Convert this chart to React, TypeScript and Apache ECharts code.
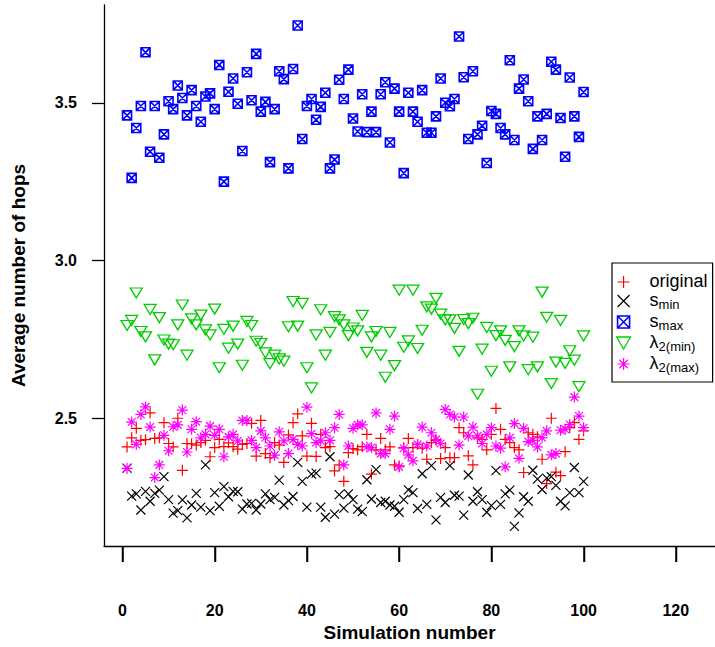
import React, { useEffect, useRef } from "react";
import * as echarts from "echarts";

const simNumbers = [
  1, 2, 3, 4, 5, 6, 7, 8, 9, 10, 11, 12, 13, 14, 15, 16, 17, 18, 19, 20,
  21, 22, 23, 24, 25, 26, 27, 28, 29, 30, 31, 32, 33, 34, 35, 36, 37, 38, 39, 40,
  41, 42, 43, 44, 45, 46, 47, 48, 49, 50, 51, 52, 53, 54, 55, 56, 57, 58, 59, 60,
  61, 62, 63, 64, 65, 66, 67, 68, 69, 70, 71, 72, 73, 74, 75, 76, 77, 78, 79, 80,
  81, 82, 83, 84, 85, 86, 87, 88, 89, 90, 91, 92, 93, 94, 95, 96, 97, 98, 99, 100,
];

const original = [
  2.409, 2.438, 2.468, 2.43, 2.432, 2.517, 2.436, 2.438, 2.486, 2.42,
  2.409, 2.5, 2.335, 2.42, 2.419, 2.415, 2.423, 2.43, 2.378, 2.407,
  2.433, 2.41, 2.422, 2.41, 2.402, 2.417, 2.42, 2.484, 2.38, 2.493,
  2.388, 2.375, 2.423, 2.415, 2.36, 2.447, 2.486, 2.514, 2.444, 2.38,
  2.484, 2.379, 2.449, 2.407, 2.41, 2.333, 2.352, 2.3, 2.391, 2.404,
  2.4, 2.41, 2.449, 2.323, 2.4, 2.436, 2.4, 2.409, 2.352, 2.349,
  2.407, 2.436, 2.407, 2.417, 2.405, 2.37, 2.423, 2.43, 2.372, 2.407,
  2.375, 2.375, 2.47, 2.454, 2.381, 2.352, 2.438, 2.433, 2.4, 2.449,
  2.531, 2.465, 2.433, 2.423, 2.407, 2.4, 2.328, 2.454, 2.449, 2.441,
  2.37, 2.293, 2.5, 2.329, 2.318, 2.394, 2.47, 2.486, 2.433, 2.46,
];

const sMin = [
  2.342, 2.253, 2.26, 2.209, 2.268, 2.237, 2.262, 2.272, 2.315, 2.242,
  2.199, 2.207, 2.241, 2.184, 2.225, 2.262, 2.218, 2.352, 2.207, 2.264,
  2.221, 2.283, 2.251, 2.268, 2.267, 2.212, 2.228, 2.23, 2.209, 2.228,
  2.26, 2.242, 2.249, 2.304, 2.225, 2.239, 2.252, 2.36, 2.3, 2.218,
  2.323, 2.326, 2.218, 2.186, 2.378, 2.196, 2.258, 2.215, 2.26, 2.242,
  2.212, 2.204, 2.305, 2.244, 2.337, 2.233, 2.237, 2.225, 2.221, 2.202,
  2.242, 2.273, 2.264, 2.214, 2.324, 2.227, 2.35, 2.178, 2.249, 2.233,
  2.35, 2.256, 2.253, 2.193, 2.32, 2.237, 2.267, 2.242, 2.202, 2.223,
  2.334, 2.227, 2.26, 2.272, 2.157, 2.2, 2.251, 2.237, 2.335, 2.307,
  2.274, 2.31, 2.315, 2.287, 2.237, 2.222, 2.264, 2.344, 2.264, 2.3,
];

const sMax = [
  3.46, 3.262, 3.42, 3.49, 3.66, 3.345, 3.49, 3.326, 3.4, 3.505,
  3.48, 3.555, 3.515, 3.46, 3.54, 3.49, 3.44, 3.52, 3.53, 3.48,
  3.62, 3.25, 3.535, 3.577, 3.497, 3.347, 3.597, 3.508, 3.655, 3.472,
  3.503, 3.312, 3.48, 3.6, 3.575, 3.292, 3.607, 3.745, 3.385, 3.49,
  3.512, 3.446, 3.487, 3.532, 3.292, 3.32, 3.573, 3.512, 3.605, 3.45,
  3.409, 3.527, 3.407, 3.472, 3.407, 3.527, 3.565, 3.374, 3.545, 3.472,
  3.277, 3.532, 3.472, 3.44, 3.54, 3.405, 3.405, 3.457, 3.577, 3.5,
  3.489, 3.512, 3.71, 3.581, 3.385, 3.6, 3.4, 3.427, 3.309, 3.474,
  3.465, 3.42, 3.4, 3.635, 3.382, 3.545, 3.574, 3.505, 3.354, 3.457,
  3.382, 3.465, 3.63, 3.605, 3.452, 3.329, 3.58, 3.457, 3.392, 3.534,
];

const lambda2Min = [
  2.794, 2.81, 2.897, 2.775, 2.758, 2.845, 2.685, 2.819, 2.748, 2.735,
  2.733, 2.796, 2.859, 2.7, 2.815, 2.796, 2.827, 2.78, 2.764, 2.846,
  2.66, 2.782, 2.722, 2.792, 2.735, 2.668, 2.807, 2.794, 2.744, 2.737,
  2.707, 2.673, 2.7, 2.688, 2.681, 2.79, 2.87, 2.792, 2.864, 2.66,
  2.596, 2.764, 2.844, 2.7, 2.772, 2.822, 2.812, 2.796, 2.762, 2.786,
  2.777, 2.826, 2.709, 2.758, 2.775, 2.7, 2.63, 2.772, 2.667, 2.906,
  2.725, 2.745, 2.906, 2.721, 2.779, 2.853, 2.846, 2.88, 2.83, 2.812,
  2.812, 2.785, 2.712, 2.813, 2.8, 2.817, 2.576, 2.719, 2.788, 2.649,
  2.762, 2.777, 2.747, 2.663, 2.727, 2.777, 2.761, 2.654, 2.757, 2.663,
  2.9, 2.82, 2.61, 2.678, 2.81, 2.674, 2.714, 2.684, 2.6, 2.761,
];

const lambda2Max = [
  2.341, 2.488, 2.417, 2.512, 2.536, 2.472, 2.312, 2.352, 2.446, 2.397,
  2.473, 2.479, 2.526, 2.393, 2.465, 2.489, 2.438, 2.449, 2.475, 2.446,
  2.465, 2.378, 2.441, 2.449, 2.428, 2.493, 2.493, 2.43, 2.407, 2.46,
  2.438, 2.412, 2.383, 2.457, 2.428, 2.388, 2.433, 2.417, 2.412, 2.535,
  2.451, 2.423, 2.428, 2.454, 2.43, 2.47, 2.512, 2.352, 2.412, 2.468,
  2.479, 2.479, 2.409, 2.407, 2.517, 2.388, 2.388, 2.465, 2.507, 2.346,
  2.405, 2.384, 2.365, 2.417, 2.472, 2.412, 2.454, 2.433, 2.42, 2.528,
  2.512, 2.504, 2.415, 2.504, 2.444, 2.472, 2.444, 2.42, 2.449, 2.47,
  2.412, 2.405, 2.346, 2.438, 2.483, 2.373, 2.468, 2.426, 2.43, 2.409,
  2.438, 2.46, 2.384, 2.388, 2.462, 2.465, 2.48, 2.567, 2.507, 2.47,
];

const xTicks = [0, 20, 40, 60, 80, 100, 120];
const yTicks = [2.5, 3.0, 3.5];

const seriesNames = ["original", "smin", "smax", "l2min", "l2max"];
const legendLabels: Record<string, string> = {
  original: "{m|original}",
  smin: "{m|s}{s|min}",
  smax: "{m|s}{s|max}",
  l2min: "{m|\u03bb}{s|2(min)}",
  l2max: "{m|\u03bb}{s|2(max)}",
};

const PLUS = "path://M5,0L5,10M0,5L10,5";
const CROSS = "path://M0,0L10,10M10,0L0,10";
const BOXX = "path://M0,0L10,0L10,10L0,10ZM0,0L10,10M10,0L0,10";
const TRI = "path://M0,0L10,0L5,8.66Z";
const STAR = "path://M5,0L5,10M0,5L10,5M1.46,1.46L8.54,8.54M8.54,1.46L1.46,8.54";

const FONT = "'Liberation Sans', Arial, sans-serif";
const X_MIN = -4;
const X_MAX = 128.5;
const Y_MIN = 2.095;
const Y_MAX = 3.81;

export default function App() {
  const ref = useRef<HTMLDivElement>(null);

  useEffect(() => {
    if (!ref.current) return;
    const chart = echarts.init(ref.current, undefined, { renderer: "svg" });

    const pair = (vals: number[]) => vals.map((v, i) => [simNumbers[i], v]);

    const mk = (name: string, vals: number[], symbol: string, size: any, color: string, bw: number) => ({
      name,
      type: "scatter",
      data: pair(vals),
      symbol,
      symbolSize: size,
      silent: true,
      itemStyle: { color: "rgba(0,0,0,0)", borderColor: color, borderWidth: bw, opacity: 1 },
    });

    const legendIcons: Record<string, { icon: string; color: string; bw: number }> = {
      original: { icon: PLUS, color: "#FF0000", bw: 1.2 },
      smin: { icon: CROSS, color: "#000000", bw: 1.2 },
      smax: { icon: BOXX, color: "#0000FF", bw: 1.6 },
      l2min: { icon: TRI, color: "#00CD00", bw: 1.3 },
      l2max: { icon: STAR, color: "#FF00FF", bw: 1.2 },
    };

    chart.setOption({
      animation: false,
      backgroundColor: "#ffffff",
      grid: { left: 104, top: 5, right: 0, bottom: 98, containLabel: false },
      xAxis: {
        type: "value",
        min: X_MIN,
        max: X_MAX,
        name: "Simulation number",
        nameLocation: "middle",
        nameGap: 77,
        nameTextStyle: { fontFamily: FONT, fontWeight: "bold", fontSize: 19, color: "#000" },
        axisLine: { show: true, onZero: false, lineStyle: { color: "#000", width: 1.3 } },
        axisTick: { show: true, customValues: xTicks, length: 16, lineStyle: { color: "#000", width: 1.5 } },
        axisLabel: {
          customValues: xTicks,
          margin: 56,
          fontFamily: FONT,
          fontWeight: "bold",
          fontSize: 16,
          color: "#000",
        },
        splitLine: { show: false },
      },
      yAxis: {
        type: "value",
        min: Y_MIN,
        max: Y_MAX,
        name: "Average number of hops",
        nameLocation: "middle",
        nameGap: 76,
        nameTextStyle: { fontFamily: FONT, fontWeight: "bold", fontSize: 19, color: "#000" },
        axisLine: { show: true, onZero: false, lineStyle: { color: "#000", width: 1.3 } },
        axisTick: { show: true, customValues: yTicks, length: 12, lineStyle: { color: "#000", width: 1.3 } },
        axisLabel: {
          customValues: yTicks,
          margin: 27,
          fontFamily: FONT,
          fontWeight: "bold",
          fontSize: 16,
          color: "#000",
          formatter: (v: number) => v.toFixed(1),
        },
        splitLine: { show: false },
      },
      legend: {
        orient: "vertical",
        left: 612,
        top: 263,
        padding: [9, 5, 8, 4],
        itemGap: 1,
        itemWidth: 22,
        itemHeight: 12,
        borderColor: "#000",
        borderWidth: 1.2,
        backgroundColor: "#fff",
        selectedMode: false,
        data: seriesNames.map((n) => ({
          name: n,
          icon: legendIcons[n].icon,
          itemStyle: { color: "rgba(0,0,0,0)", borderColor: legendIcons[n].color, borderWidth: legendIcons[n].bw },
        })),
        formatter: (name: string) => legendLabels[name],
        textStyle: {
          fontFamily: FONT,
          color: "#000",
          rich: {
            m: { fontFamily: FONT, fontSize: 18, lineHeight: 20, color: "#000", padding: [0, 0, 0, 10], verticalAlign: "top" },
            s: { fontFamily: FONT, fontSize: 13, lineHeight: 13, color: "#000", verticalAlign: "bottom" },
          },
        },
      },
      series: [
        mk("original", original, PLUS, 11, "#FF0000", 1.2),
        mk("smin", sMin, CROSS, 9, "#000000", 1.2),
        mk("smax", sMax, BOXX, 9, "#0000FF", 1.6),
        mk("l2min", lambda2Min, TRI, [12, 10], "#00CD00", 1.3),
        mk("l2max", lambda2Max, STAR, 11, "#FF00FF", 1.2),
      ],
    });

    // x-axis tick marks positioned through the axis scale
    const tickLines = xTicks.map((t) => {
      const p = chart.convertToPixel({ xAxisIndex: 0, yAxisIndex: 0 }, [t, Y_MIN]) as number[];
      const x = Math.round(p[0]) + 0.5;
      return {
        type: "line",
        silent: true,
        z: 100,
        shape: { x1: x, y1: p[1], x2: x, y2: p[1] + 16 },
        style: { stroke: "#000", lineWidth: 1.5 },
      };
    });
    chart.setOption({ graphic: tickLines });

    return () => chart.dispose();
  }, []);

  return (
    <div
      ref={ref}
      style={{ position: "fixed", left: 0, top: 0, width: 715, height: 647, background: "#fff" }}
    />
  );
}
